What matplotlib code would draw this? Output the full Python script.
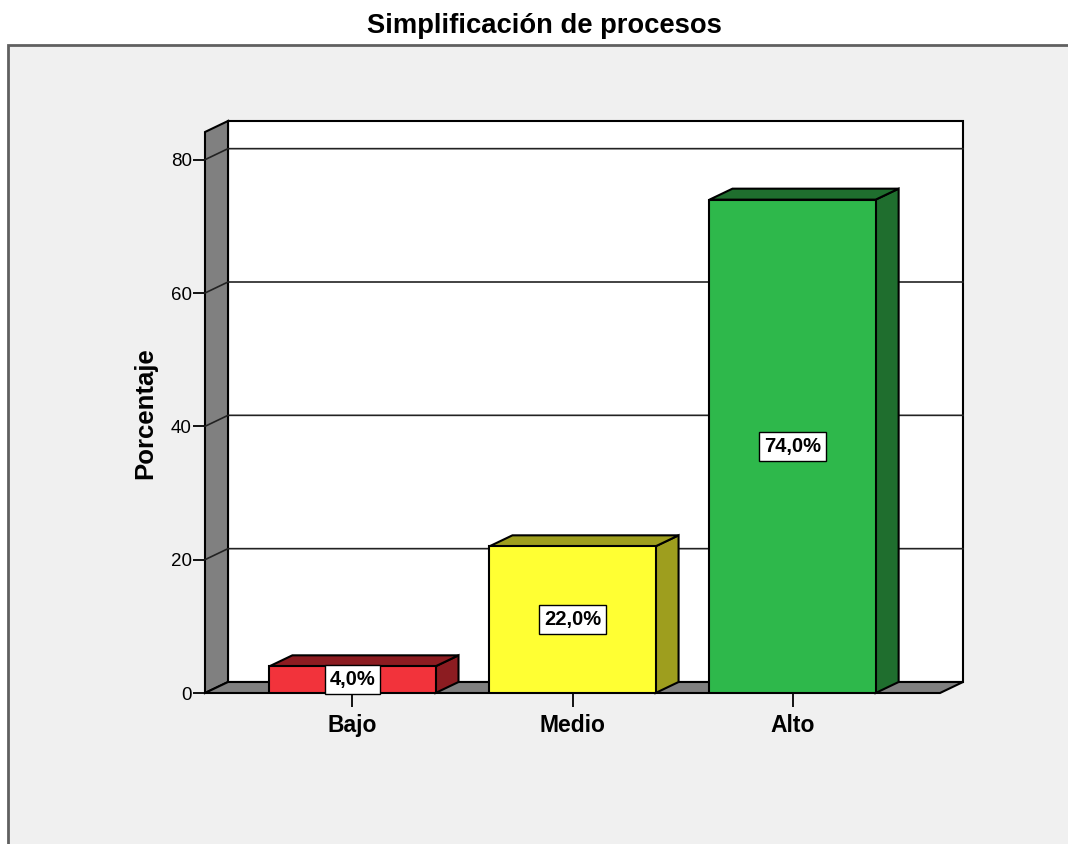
import matplotlib
matplotlib.use('Agg')
import matplotlib.pyplot as plt
from matplotlib.patches import Polygon, Rectangle
from matplotlib.transforms import IdentityTransform
from matplotlib.lines import Line2D
import numpy as np

# ---------------- data ----------------
categories = ['Bajo', 'Medio', 'Alto']
percentages = [4.0, 22.0, 74.0]
value_labels = ['4,0%', '22,0%', '74,0%']
y_ticks = [0, 20, 40, 60, 80]
title = 'Simplificación de procesos'
y_label = 'Porcentaje'

front_colors = ['#f2333b', '#ffff33', '#2eb84b']
dark_colors = ['#8c1c21', '#9e9e1e', '#1f6e2e']
wall_color = '#808080'

plt.rcParams['font.family'] = ['Liberation Sans', 'DejaVu Sans']

W, H = 1068, 844
DPI = 100
fig = plt.figure(figsize=(W / DPI, H / DPI), dpi=DPI)
fig.patch.set_facecolor('white')

# outer chart frame (light grey panel)
frame = Rectangle((8 / W, -0.1), 1.2, 1 - 45 / H + 0.1, transform=fig.transFigure,
                  facecolor='#f0f0f0', edgecolor='#606060', lw=2, zorder=-5)
fig.patches.append(frame)

# front plane of the 3D box
ax = fig.add_axes([205 / W, 1 - 693 / H, (940 - 205) / W, (693 - 132) / H])
ax.set_zorder(1)
xl, xr = -0.67, 2.67
ymax = 84.15
ax.set_xlim(xl, xr)
ax.set_ylim(0, ymax)
ax.patch.set_alpha(0)
for s in ax.spines.values():
    s.set_visible(False)

DX, DY = 23, 11  # depth offset in pixels


def P(x, y, back):
    px, py = ax.transData.transform((x, y))
    return (px + back * DX, py + back * DY)


def poly(pts, fc, z, ec='black', lw=1.5):
    p = Polygon(pts, closed=True, facecolor=fc, edgecolor=ec, lw=lw,
                transform=IdentityTransform(), clip_on=False, zorder=z,
                joinstyle='miter')
    ax.add_patch(p)


# back wall
poly([P(xl, 0, 1), P(xr, 0, 1), P(xr, ymax, 1), P(xl, ymax, 1)], 'white', 1)
# left wall
poly([P(xl, 0, 0), P(xl, ymax, 0), P(xl, ymax, 1), P(xl, 0, 1)], wall_color, 2)
# floor
poly([P(xl, 0, 0), P(xr, 0, 0), P(xr, 0, 1), P(xl, 0, 1)], wall_color, 2)

# gridlines across left wall and back wall
for v in y_ticks[1:]:
    pts = np.array([P(xl, v, 0), P(xl, v, 1), P(xr, v, 1)])
    ln = Line2D(pts[:, 0], pts[:, 1], color='#222222', lw=1.2,
                transform=IdentityTransform(), clip_on=False, zorder=3)
    ax.add_line(ln)

# bars
bw = 0.755
for i, (v, fc, dc) in enumerate(zip(percentages, front_colors, dark_colors)):
    x0, x1 = i - bw / 2, i + bw / 2
    poly([P(x1, 0, 0), P(x1, v, 0), P(x1, v, 1), P(x1, 0, 1)], dc, 4)
    poly([P(x0, v, 0), P(x1, v, 0), P(x1, v, 1), P(x0, v, 1)], dc, 4)
ax.bar(range(len(categories)), percentages, width=bw, color=front_colors,
       edgecolor='black', linewidth=1.5, zorder=5)

# value labels
for i, (v, lab) in enumerate(zip(percentages, value_labels)):
    ax.text(i, v / 2, lab, ha='center', va='center', fontsize=14.5,
            fontweight='bold', zorder=6,
            bbox=dict(boxstyle='square,pad=0.25', fc='white', ec='black', lw=1))

# axes ticks
ax.set_yticks(y_ticks)
ax.set_yticklabels([str(t) for t in y_ticks])
ax.tick_params(axis='y', length=8.6, width=1.3, pad=1, labelsize=13.5,
               colors='black')
ax.set_xticks(range(len(categories)))
ax.set_xticklabels(categories, fontweight='bold')
ax.tick_params(axis='x', length=10, width=1.3, pad=5, labelsize=16.5,
               colors='black')

# y label and title
fig.text(145 / W, 1 - 413 / H, y_label, rotation=90, ha='center', va='center',
         fontsize=18.5, fontweight='bold')
fig.text(544 / W, 1 - 33 / H, title, ha='center', va='baseline',
         fontsize=19.7, fontweight='bold')

fig.savefig('out.png', dpi=DPI)
